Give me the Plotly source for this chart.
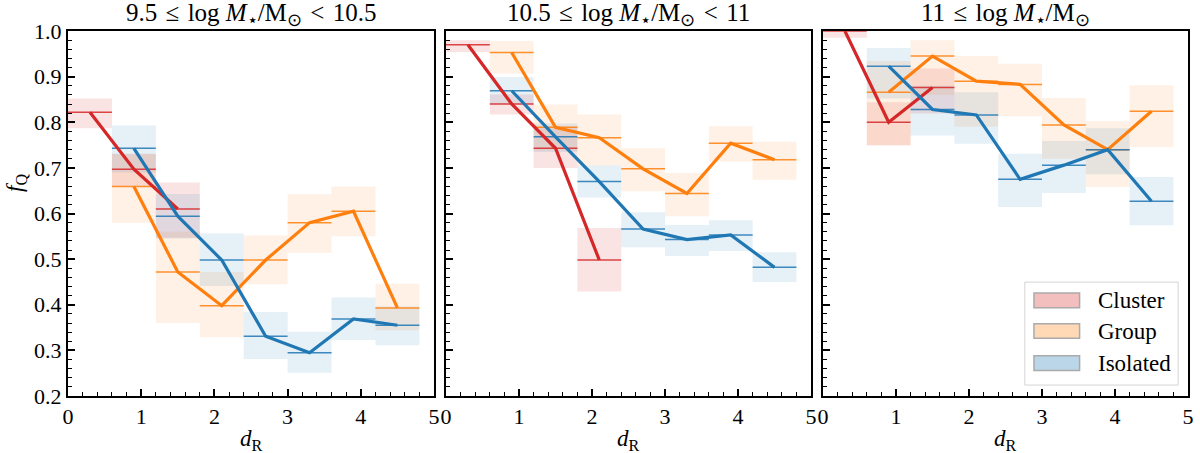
import plotly.graph_objects as go

# ---------------- data ----------------
bin_half_width = 0.3
x_ticks = [0, 1, 2, 3, 4, 5]
y_ticks = [0.2, 0.3, 0.4, 0.5, 0.6, 0.7, 0.8, 0.9, 1.0]

panel_titles = [
    "9.5\u2004≤\u2004log <i>M</i><sub>⋆</sub>/M<sub>⊙</sub>\u2004&lt;\u200410.5",
    "10.5\u2004≤\u2004log <i>M</i><sub>⋆</sub>/M<sub>⊙</sub>\u2004&lt;\u200411",
    "11\u2004≤\u2004log <i>M</i><sub>⋆</sub>/M<sub>⊙</sub>",
]
series_names = ["Cluster", "Group", "Isolated"]

# Panel 1: 9.5 <= log M < 10.5
p1_cluster_d = [0.3, 0.9, 1.5]
p1_cluster_fq = [0.822, 0.697, 0.610]
p1_cluster_lo = [0.787, 0.660, 0.547]
p1_cluster_hi = [0.852, 0.731, 0.668]

p1_group_d = [0.9, 1.5, 2.1, 2.7, 3.3, 3.9, 4.5]
p1_group_fq = [0.659, 0.472, 0.398, 0.498, 0.580, 0.605, 0.393]
p1_group_lo = [0.580, 0.360, 0.329, 0.445, 0.514, 0.550, 0.344]
p1_group_hi = [0.730, 0.560, 0.472, 0.552, 0.642, 0.659, 0.446]

p1_iso_d = [0.9, 1.5, 2.1, 2.7, 3.3, 3.9, 4.5]
p1_iso_fq = [0.743, 0.594, 0.498, 0.331, 0.295, 0.369, 0.355]
p1_iso_lo = [0.690, 0.545, 0.441, 0.281, 0.251, 0.323, 0.311]
p1_iso_hi = [0.793, 0.643, 0.556, 0.384, 0.341, 0.416, 0.396]

# Panel 2: 10.5 <= log M < 11
p2_cluster_d = [0.3, 0.9, 1.5, 2.1]
p2_cluster_fq = [0.970, 0.840, 0.743, 0.498]
p2_cluster_lo = [0.954, 0.817, 0.700, 0.429]
p2_cluster_hi = [0.980, 0.861, 0.790, 0.568]

p2_group_d = [0.9, 1.5, 2.1, 2.7, 3.3, 3.9, 4.5]
p2_group_fq = [0.953, 0.789, 0.766, 0.698, 0.644, 0.754, 0.718]
p2_group_lo = [0.907, 0.738, 0.705, 0.649, 0.594, 0.714, 0.674]
p2_group_hi = [0.978, 0.839, 0.817, 0.743, 0.689, 0.791, 0.757]

p2_iso_d = [0.9, 1.5, 2.1, 2.7, 3.3, 3.9, 4.5]
p2_iso_fq = [0.869, 0.768, 0.670, 0.566, 0.543, 0.553, 0.482]
p2_iso_lo = [0.840, 0.735, 0.635, 0.526, 0.507, 0.518, 0.450]
p2_iso_hi = [0.899, 0.797, 0.705, 0.603, 0.575, 0.585, 0.515]

# Panel 3: 11 <= log M
p3_cluster_d = [0.3, 0.9, 1.5]
p3_cluster_fq = [1.000, 0.800, 0.876]
p3_cluster_lo = [0.985, 0.749, 0.819]
p3_cluster_hi = [1.030, 0.844, 0.918]

p3_group_d = [0.9, 1.5, 2.1, 2.7, 3.3, 3.9, 4.5]
p3_group_fq = [0.866, 0.945, 0.890, 0.883, 0.794, 0.740, 0.824]
p3_group_lo = [0.750, 0.860, 0.790, 0.813, 0.720, 0.658, 0.746]
p3_group_hi = [0.934, 0.980, 0.945, 0.928, 0.853, 0.802, 0.881]

p3_iso_d = [0.9, 1.5, 2.1, 2.7, 3.3, 3.9, 4.5]
p3_iso_fq = [0.923, 0.828, 0.816, 0.675, 0.706, 0.740, 0.627]
p3_iso_lo = [0.852, 0.771, 0.753, 0.614, 0.645, 0.686, 0.574]
p3_iso_hi = [0.963, 0.880, 0.866, 0.731, 0.759, 0.787, 0.680]

panels = [
    [(p1_cluster_d, p1_cluster_fq, p1_cluster_lo, p1_cluster_hi),
     (p1_group_d, p1_group_fq, p1_group_lo, p1_group_hi),
     (p1_iso_d, p1_iso_fq, p1_iso_lo, p1_iso_hi)],
    [(p2_cluster_d, p2_cluster_fq, p2_cluster_lo, p2_cluster_hi),
     (p2_group_d, p2_group_fq, p2_group_lo, p2_group_hi),
     (p2_iso_d, p2_iso_fq, p2_iso_lo, p2_iso_hi)],
    [(p3_cluster_d, p3_cluster_fq, p3_cluster_lo, p3_cluster_hi),
     (p3_group_d, p3_group_fq, p3_group_lo, p3_group_hi),
     (p3_iso_d, p3_iso_fq, p3_iso_lo, p3_iso_hi)],
]

# ---------------- style ----------------
rgb = [(214, 39, 40), (255, 127, 14), (31, 119, 180)]
box_alpha = [0.13, 0.11, 0.11]
legend_alpha = 0.3
FONT = "Liberation Serif"

def rgba(c, a):
    return f"rgba({c[0]},{c[1]},{c[2]},{a})"

domains = [[0.0, 0.3268], [0.3375, 0.6634], [0.6741, 1.0]]

fig = go.Figure()

for p, series in enumerate(panels):
    xa = "x" if p == 0 else f"x{p+1}"
    ya = "y" if p == 0 else f"y{p+1}"
    # shaded boxes
    for s, (d, fq, lo, hi) in enumerate(series):
        bx, by = [], []
        for c, l, h in zip(d, lo, hi):
            bx += [c - bin_half_width, c + bin_half_width, c + bin_half_width, c - bin_half_width, c - bin_half_width, None]
            by += [l, l, h, h, l, None]
        fig.add_trace(go.Scatter(x=bx, y=by, xaxis=xa, yaxis=ya, mode="lines", fill="toself",
                                 fillcolor=rgba(rgb[s], box_alpha[s]), line=dict(width=0),
                                 hoverinfo="skip", showlegend=False))
    # median segments
    for s, (d, fq, lo, hi) in enumerate(series):
        sx, sy = [], []
        for c, v in zip(d, fq):
            sx += [c - bin_half_width, c + bin_half_width, None]
            sy += [v, v, None]
        fig.add_trace(go.Scatter(x=sx, y=sy, xaxis=xa, yaxis=ya, mode="lines",
                                 line=dict(color=rgba(rgb[s], 0.85), width=1.5),
                                 hoverinfo="skip", showlegend=False))
    # main lines
    for s, (d, fq, lo, hi) in enumerate(series):
        fig.add_trace(go.Scatter(x=d, y=fq, xaxis=xa, yaxis=ya, mode="lines",
                                 line=dict(color=rgba(rgb[s], 1), width=3.2),
                                 name=series_names[s], showlegend=False))

layout = dict(
    width=1200, height=453, autosize=False,
    margin=dict(l=68, r=6, t=31, b=57),
    paper_bgcolor="white", plot_bgcolor="white",
    font=dict(family=FONT, size=22, color="black"),
    showlegend=False,
)
for p in range(3):
    xk = "xaxis" if p == 0 else f"xaxis{p+1}"
    yk = "yaxis" if p == 0 else f"yaxis{p+1}"
    ya = "y" if p == 0 else f"y{p+1}"
    xa = "x" if p == 0 else f"x{p+1}"
    common = dict(
        showline=True, linewidth=2, linecolor="black", mirror=True,
        ticks="inside", ticklen=7, tickwidth=1.5, tickcolor="black",
        showgrid=False, zeroline=False,
        tickfont=dict(family=FONT, size=22, color="black"),
    )
    layout[xk] = dict(common, domain=domains[p], range=[0, 5], tickvals=x_ticks,
                      anchor=ya,
                      minor=dict(ticks="inside", ticklen=4, tickwidth=1.2, tickcolor="black", dtick=0.2))
    layout[yk] = dict(common, domain=[0, 1], range=[0.2, 1.0], tickvals=y_ticks,
                      tickformat=".1f", anchor=xa, showticklabels=(p == 0),
                      minor=dict(ticks="inside", ticklen=4, tickwidth=1.2, tickcolor="black", dtick=0.02))
fig.update_layout(**layout)

annotations = []
for p in range(3):
    xa = "x" if p == 0 else f"x{p+1}"
    annotations.append(dict(text=panel_titles[p], xref=f"{xa} domain", yref="paper",
                            x=0.5, y=1.0, yshift=17, xanchor="center", yanchor="middle",
                            showarrow=False, font=dict(family=FONT, size=25, color="black")))
    annotations.append(dict(text="<i>d</i><sub>R</sub>", xref=f"{xa} domain", yref="paper",
                            x=0.5, y=0, yshift=-44, xanchor="center", yanchor="middle",
                            showarrow=False, font=dict(family=FONT, size=23, color="black")))
annotations.append(dict(text="<i>f</i><sub>Q</sub>", xref="paper", yref="paper",
                        x=0, xshift=-52, y=(396 - 183) / 365, xanchor="center", yanchor="middle",
                        textangle=-90, showarrow=False, font=dict(family=FONT, size=23, color="black")))

# legend (drawn in panel-3 axis-domain coordinates)
shapes = [dict(type="rect", xref="x3 domain", yref="y3 domain", x0=0.553, x1=0.973, y0=0.030, y1=0.312,
               line=dict(color="#d4d4d4", width=1), fillcolor="rgba(255,255,255,0.85)", layer="above")]
leg_y = [0.262, 0.178, 0.090]
for s in range(3):
    shapes.append(dict(type="rect", xref="x3 domain", yref="y3 domain", x0=0.578, x1=0.703,
                       y0=leg_y[s] - 0.02, y1=leg_y[s] + 0.02,
                       line=dict(color="#aaaaaa", width=1.5), fillcolor=rgba(rgb[s], legend_alpha), layer="above"))
    annotations.append(dict(text=series_names[s], xref="x3 domain", yref="y3 domain", x=0.749, y=leg_y[s],
                            xanchor="left", yanchor="middle", showarrow=False,
                            font=dict(family=FONT, size=23, color="black")))
fig.update_layout(annotations=annotations, shapes=shapes)

fig.write_html("out.html")
